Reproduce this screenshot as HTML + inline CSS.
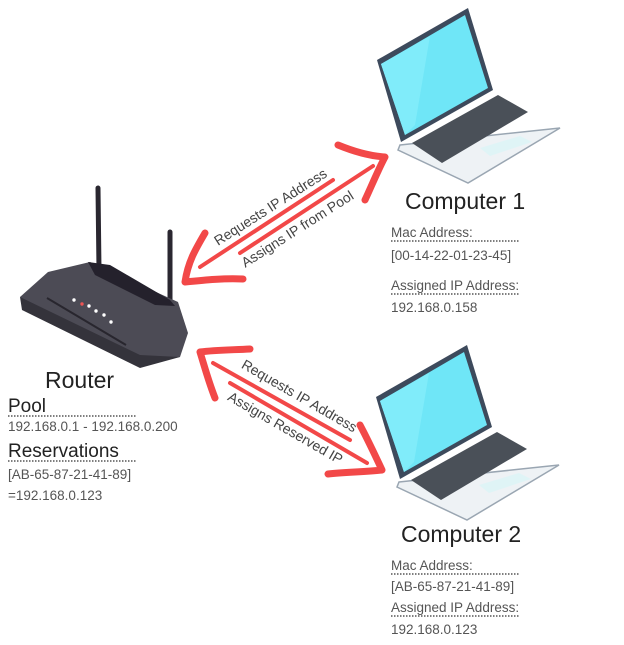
<!DOCTYPE html>
<html><head><meta charset="utf-8"><style>
html,body{margin:0;padding:0;background:#fff}
svg{display:block}
text{font-family:"Liberation Sans",sans-serif}
</style></head><body>
<svg width="624" height="645" viewBox="0 0 624 645" xmlns="http://www.w3.org/2000/svg">
<defs>
<g id="lap">
 <polygon points="400,145 560,128 468,183 398,150" fill="#eef2f5" stroke="#9aa6b2" stroke-width="1.5"/>
 <polygon points="412,143 498,95 528,112 442,163" fill="#4a5058"/>
 <polygon points="480,148 520,136 532,142 490,156" fill="#dff4f6"/>
 <polygon points="377,60 468,8 493,90 401,142" fill="#3d4a5c"/>
 <polygon points="381,64 465,15 488,88 405,135" fill="#6fe6f7"/>
 <polygon points="381,64 430,36 415,125 405,135" fill="#80ecfa"/>
</g>
</defs>
<use href="#lap"/>
<use href="#lap" transform="translate(-1,337)"/>
<!-- router -->
<line x1="98" y1="188" x2="99" y2="270" stroke="#2a2730" stroke-width="5" stroke-linecap="round"/>
<line x1="170" y1="232" x2="170" y2="305" stroke="#2a2730" stroke-width="5" stroke-linecap="round"/>
<polygon points="20,297 48,272 90,262 178,302 188,333 180,357 140,362 22,300" fill="#4c4b55"/>
<polygon points="20,297 22,310 140,368 180,357 140,355" fill="#34333b"/>
<polygon points="88,262 110,265 170,300 175,306 155,305 95,275" fill="#24212c"/>
<line x1="47" y1="298" x2="126" y2="345" stroke="#28262e" stroke-width="2"/>
<g fill="#fff"><circle cx="74" cy="300" r="1.7"/><circle cx="89" cy="306" r="1.7"/><circle cx="96" cy="311" r="1.7"/><circle cx="104" cy="315" r="1.7"/><circle cx="111" cy="322" r="1.7"/></g>
<circle cx="82" cy="304" r="1.7" fill="#e55"/>
<!-- arrows -->
<g stroke="#f24848" fill="none" stroke-linecap="round" stroke-linejoin="round">
 <line x1="200" y1="267" x2="333" y2="180" stroke-width="4"/>
 <line x1="240" y1="253" x2="373" y2="166" stroke-width="4"/>
 <path d="M205,233 C195,250 188,262 185,282 C205,280 225,278 243,279" stroke-width="7"/>
 <path d="M338,145 C355,152 370,156 385,157 C378,170 372,185 365,200" stroke-width="7"/>
 <line x1="213" y1="363" x2="350" y2="440" stroke-width="4"/>
 <line x1="230" y1="383" x2="367" y2="463" stroke-width="4"/>
 <path d="M215,398 C208,380 205,368 200,352 C215,350 230,350 250,349" stroke-width="7"/>
 <path d="M360,425 C368,440 375,455 382,470 C365,472 345,472 328,474" stroke-width="7"/>
</g>
<g font-size="14" fill="#444">
 <text x="273" y="211" text-anchor="middle" transform="rotate(-32.5 273 211)">Requests IP Address</text>
 <text x="300" y="233" text-anchor="middle" transform="rotate(-32.5 300 233)">Assigns IP from Pool</text>
 <text x="297" y="400" text-anchor="middle" transform="rotate(30 297 400)">Requests IP Address</text>
 <text x="283" y="432" text-anchor="middle" transform="rotate(30 283 432)">Assigns Reserved IP</text>
</g>
<!-- labels -->
<g fill="#222">
 <text x="45" y="388" font-size="23">Router</text>
 <text x="8" y="412" font-size="19">Pool</text>
 <text x="8" y="457" font-size="19">Reservations</text>
 <text x="405" y="209" font-size="23">Computer 1</text>
 <text x="401" y="542" font-size="23">Computer 2</text>
</g>
<g fill="#555" font-size="13.5">
 <text x="8" y="431">192.168.0.1 - 192.168.0.200</text>
 <text x="8" y="479">[AB-65-87-21-41-89]</text>
 <text x="8" y="500">=192.168.0.123</text>
 <text x="391" y="237">Mac Address:</text>
 <text x="391" y="260">[00-14-22-01-23-45]</text>
 <text x="391" y="290">Assigned IP Address:</text>
 <text x="391" y="312">192.168.0.158</text>
 <text x="391" y="570">Mac Address:</text>
 <text x="391" y="591">[AB-65-87-21-41-89]</text>
 <text x="391" y="612">Assigned IP Address:</text>
 <text x="391" y="634">192.168.0.123</text>
</g>
<g stroke="#333" stroke-width="1.3" stroke-dasharray="1.5,1.5">
 <line x1="8" y1="416" x2="137" y2="416"/>
 <line x1="8" y1="461" x2="137" y2="461"/>
 <line x1="391" y1="241" x2="520" y2="241"/>
 <line x1="391" y1="294" x2="520" y2="294"/>
 <line x1="391" y1="574" x2="520" y2="574"/>
 <line x1="391" y1="616" x2="520" y2="616"/>
</g>
</svg>
</body></html>
